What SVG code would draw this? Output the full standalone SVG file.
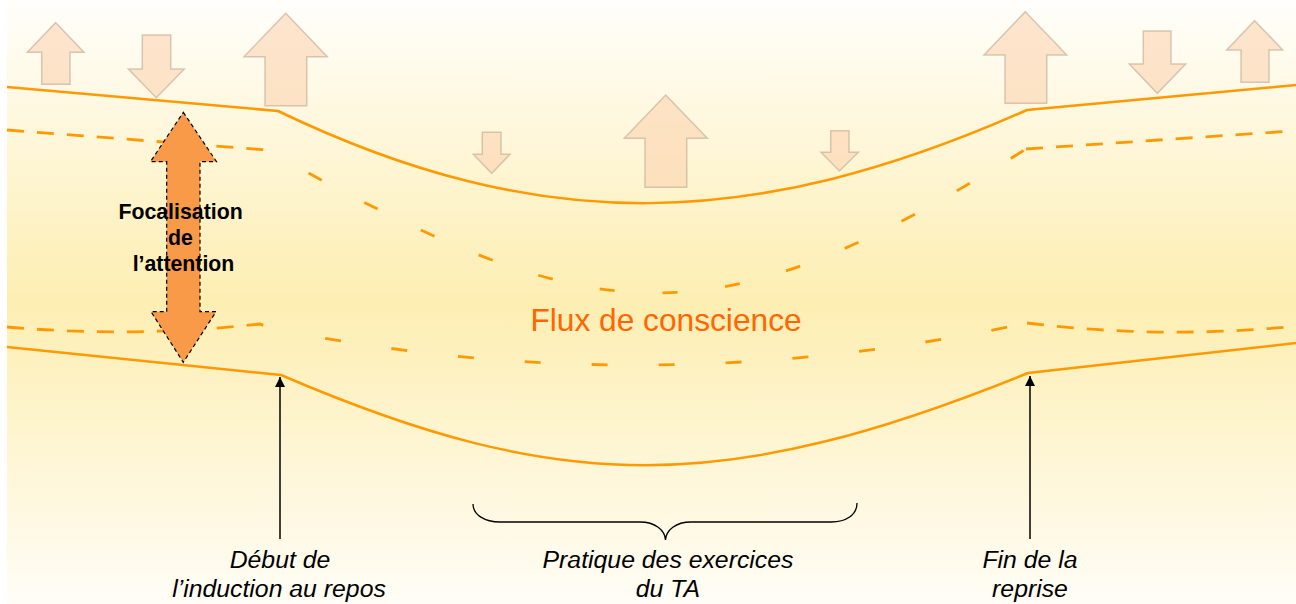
<svg xmlns="http://www.w3.org/2000/svg" width="1296" height="604" viewBox="0 0 1296 604">
<defs>
<linearGradient id="bg" x1="0" y1="0" x2="0" y2="1">
<stop offset="0" stop-color="#fffefb"/>
<stop offset="0.5" stop-color="#fdeeb2"/>
<stop offset="1" stop-color="#fffdf6"/>
</linearGradient>
<marker id="ah" markerUnits="userSpaceOnUse" markerWidth="12" markerHeight="12" refX="10" refY="5" orient="auto">
<path d="M0,0 L10,5 L0,10 Z" fill="#000"/>
</marker>
<style>
.flow{fill:none;stroke:#ff9900;stroke-width:2.5}
.dl{fill:none;stroke:#ff9900;stroke-width:2.8;stroke-dasharray:17 13}
.dc{fill:none;stroke:#ff9900;stroke-width:2.8;stroke-dasharray:15 48}
.blk{fill:#fbd3b0;fill-opacity:0.6;stroke:#c8b29c;stroke-opacity:0.7;stroke-width:1.5}
.lab{font-family:"Liberation Sans",Arial,sans-serif;font-style:italic;font-size:24.8px;fill:#000;text-anchor:middle}
.ptr{stroke:#000;stroke-width:1.5;fill:none}
</style>
</defs>
<rect x="7" y="0" width="1289" height="604" fill="url(#bg)"/>

<g id="stream">
<path class="dl" d="M7,130 L267,150"/>
<path class="dc" style="stroke-dashoffset:17" d="M268,151 C591,329 703,352 1026,149"/>
<path class="dl" d="M1026,149 L1285,131.5"/>
<path class="dl" d="M7,327 Q133,338 260,324 L275,330"/>
<path class="dc" style="stroke-dasharray:16 51;stroke-dashoffset:16" d="M275,329 Q650,404 1027,323"/>
<path class="dl" d="M1027,323 Q1157,339 1287,327"/>
<path class="flow" d="M7,87 L278,111 C540,237 755,231 1027,110 L1296,85"/>
<path class="flow" d="M7,347 L281,375 C560,495 725,496 1028,373 L1296,343"/>
</g>

<g id="forces">
<polygon class="blk" points="55.7,22.7 84,52.3 70,52.3 70,84.3 41.7,84.3 41.7,52.3 27.3,52.3"/>
<polygon class="blk" points="142.3,35 170.7,35 170.7,69 184.3,69 156.3,97.7 128.3,69 142.3,69"/>
<polygon class="blk" points="285.7,13.3 327.3,56.7 306.7,56.7 306.7,105.7 265,105.7 265,56.7 244,56.7"/>
<polygon class="blk" points="482.3,132.3 501,132.3 501,154.3 510,154.3 491.7,173.3 473.3,154.3 482.3,154.3"/>
<polygon class="blk" points="665.7,95 707.3,138.3 686.7,138.3 686.7,187.3 645,187.3 645,138.3 624.3,138.3"/>
<polygon class="blk" points="830.7,130.7 849,130.7 849,152.3 858.3,152.3 839.5,171 821,152.3 830.7,152.3"/>
<polygon class="blk" points="1025.3,11.7 1066.7,55 1046.7,55 1046.7,103.3 1005,103.3 1005,55 984,55"/>
<polygon class="blk" points="1143.3,31 1171,31 1171,64 1185.7,64 1157.3,93.3 1129.3,64 1143.3,64"/>
<polygon class="blk" points="1254.7,20.7 1282.7,50 1269,50 1269,82.3 1241,82.3 1241,50 1226.7,50"/>
</g>

<g id="focus">
<polygon points="183.3,112.3 216.5,161.7 200,161.7 200,311.7 216,311.7 183.3,362.3 151,311.7 166.7,311.7 166.7,161.7 150.5,161.7" fill="#f99a48" stroke="#000" stroke-width="1.2" stroke-dasharray="4 3"/>
<text font-family="'Liberation Sans',Arial,sans-serif" font-weight="bold" font-size="21.3" text-anchor="middle" fill="#000">
<tspan x="183.5" y="219">Focalisation</tspan>
<tspan x="183.5" y="245">de</tspan>
<tspan x="183.5" y="270.5">l’attention</tspan>
</text>
</g>

<g id="title">
<text x="666" y="331" font-family="'Liberation Sans',Arial,sans-serif" font-size="31.7" text-anchor="middle" fill="#ff6600">Flux de conscience</text>
</g>

<g id="connectors">
<line class="ptr" x1="280" y1="539" x2="280" y2="377" marker-end="url(#ah)"/>
<line class="ptr" x1="1030" y1="539" x2="1030" y2="376" marker-end="url(#ah)"/>
<path d="M473,504 C473,515 485,522 500,522 L640,522 C655,522 665,530 665.5,540 C666,530 676,522 691,522 L831,522 C846,522 857,515 857,503" fill="none" stroke="#000" stroke-width="1.3"/>
</g>

<g id="label-start">
<text class="lab"><tspan x="280" y="568">Début de</tspan><tspan x="279" y="596.5">l’induction au repos</tspan></text>
</g>
<g id="label-practice">
<text class="lab"><tspan x="668" y="568">Pratique des exercices</tspan><tspan x="668" y="596.5">du TA</tspan></text>
</g>
<g id="label-end">
<text class="lab"><tspan x="1030" y="568">Fin de la</tspan><tspan x="1030" y="596.5">reprise</tspan></text>
</g>
</svg>
